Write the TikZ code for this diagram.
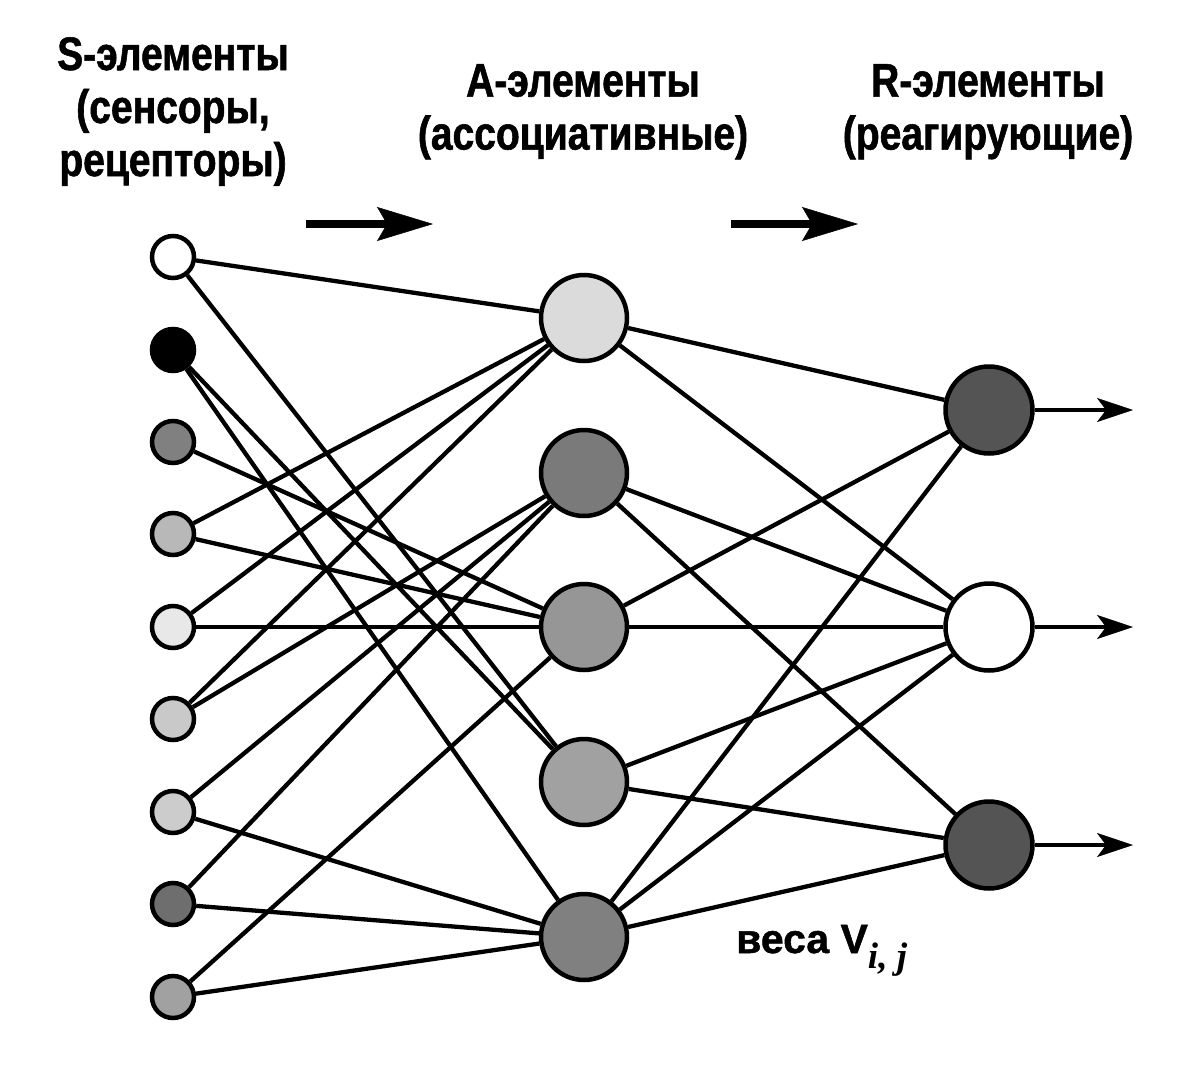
\documentclass[tikz,border=0pt]{standalone}
\usepackage{fontspec}
\usetikzlibrary{arrows.meta}
\newfontfamily\labelfont{Liberation Sans}[FakeStretch=0.83,BoldFeatures={FakeBold=1.2}]
\newfontfamily\plainfont{Liberation Sans}[BoldFeatures={FakeBold=1.2}]
\newfontfamily\idxfont{Liberation Serif}

\definecolor{gS3}{gray}{0.50}
\definecolor{gS4}{gray}{0.72}
\definecolor{gS5}{gray}{0.91}
\definecolor{gS6}{gray}{0.79}
\definecolor{gS7}{gray}{0.80}
\definecolor{gS8}{gray}{0.43}
\definecolor{gS9}{gray}{0.63}
\definecolor{gA1}{gray}{0.86}
\definecolor{gA2}{gray}{0.48}
\definecolor{gA3}{gray}{0.59}
\definecolor{gA4}{gray}{0.63}
\definecolor{gA5}{gray}{0.50}
\definecolor{gR}{gray}{0.33}

\begin{document}
\begin{tikzpicture}[x=1pt,y=-1pt,
  neuron/.style={circle,draw=black,line width=4.5pt,inner sep=0pt},
  sens/.style={neuron,minimum size=42pt},
  assoc/.style={neuron,minimum size=86pt},
  react/.style={neuron,minimum size=87pt},
  link/.style={line width=4.3pt},
  outarrow/.style={line width=3.5pt,-{Stealth[length=36pt,width=24pt,inset=9pt,line width=0.5pt]}},
  flow/.style={line width=8pt,-{Stealth[length=56pt,width=34pt,inset=10pt,line width=0.5pt]}},
  title/.style={font=\labelfont\bfseries\fontsize{47}{53}\selectfont,align=center,anchor=north,inner sep=0pt}]

\useasboundingbox (0,0) rectangle (1200,1076);

% layer headings
\node[title] (tS) at (173,37) {S-элементы\\(сенсоры,\\рецепторы)};
\node[title] (tA) at (583,64) {А-элементы\\(ассоциативные)};
\node[title] (tR) at (988,64) {R-элементы\\(реагирующие)};

% direction arrows
\coordinate (f1a) at (306,224); \coordinate (f1b) at (433,224);
\coordinate (f2a) at (731,224); \coordinate (f2b) at (858,224);
\draw[flow] (f1a) -- (f1b);
\draw[flow] (f2a) -- (f2b);

% sensor layer
\node[sens,fill=white] (S1) at (173,257) {};
\node[sens,fill=black] (S2) at (173,350) {};
\node[sens,fill=gS3]   (S3) at (173,442) {};
\node[sens,fill=gS4]   (S4) at (173,534) {};
\node[sens,fill=gS5]   (S5) at (173,627) {};
\node[sens,fill=gS6]   (S6) at (173,719) {};
\node[sens,fill=gS7]   (S7) at (173,812) {};
\node[sens,fill=gS8]   (S8) at (173,904) {};
\node[sens,fill=gS9]   (S9) at (173,997) {};

% associative layer
\node[assoc,fill=gA1] (A1) at (584,318) {};
\node[assoc,fill=gA2] (A2) at (584,473) {};
\node[assoc,fill=gA3] (A3) at (584,627) {};
\node[assoc,fill=gA4] (A4) at (584,782) {};
\node[assoc,fill=gA5] (A5) at (584,937) {};

% reacting layer
\node[react,fill=gR]    (R1) at (989,410) {};
\node[react,fill=white] (R2) at (989,627) {};
\node[react,fill=gR]    (R3) at (989,845) {};

% S -> A connections
\draw[link] (S1) -- (A1);
\draw[link] (S1) -- (A4);
\draw[link] (S2) -- (A4);
\draw[link] (S2) -- (A5);
\draw[link] (S3) -- (A3);
\draw[link] (S4) -- (A1);
\draw[link] (S4) -- (A3);
\draw[link] (S5) -- (A1);
\draw[link] (S5) -- (A3);
\draw[link] (S6) -- (A1);
\draw[link] (S6) -- (A2);
\draw[link] (S7) -- (A2);
\draw[link] (S7) -- (A5);
\draw[link] (S8) -- (A2);
\draw[link] (S8) -- (A5);
\draw[link] (S9) -- (A3);
\draw[link] (S9) -- (A5);

% A -> R connections
\draw[link] (A1) -- (R1);
\draw[link] (A1) -- (R2);
\draw[link] (A2) -- (R2);
\draw[link] (A2) -- (R3);
\draw[link] (A3) -- (R1);
\draw[link] (A3) -- (R2);
\draw[link] (A4) -- (R2);
\draw[link] (A4) -- (R3);
\draw[link] (A5) -- (R1);
\draw[link] (A5) -- (R2);
\draw[link] (A5) -- (R3);

% outputs
\coordinate (o1) at (1133,410);
\coordinate (o2) at (1133,627);
\coordinate (o3) at (1133,845);
\draw[outarrow] (R1) -- (o1);
\draw[outarrow] (R2) -- (o2);
\draw[outarrow] (R3) -- (o3);

% weight label
\node[anchor=base west,inner sep=0pt,font=\plainfont\bfseries\fontsize{41}{41}\selectfont] (w) at (736,953)
  {веса V\raisebox{-15pt}{\idxfont\bfseries\itshape\fontsize{37}{37}\selectfont i, j}};
\end{tikzpicture}
\end{document}
